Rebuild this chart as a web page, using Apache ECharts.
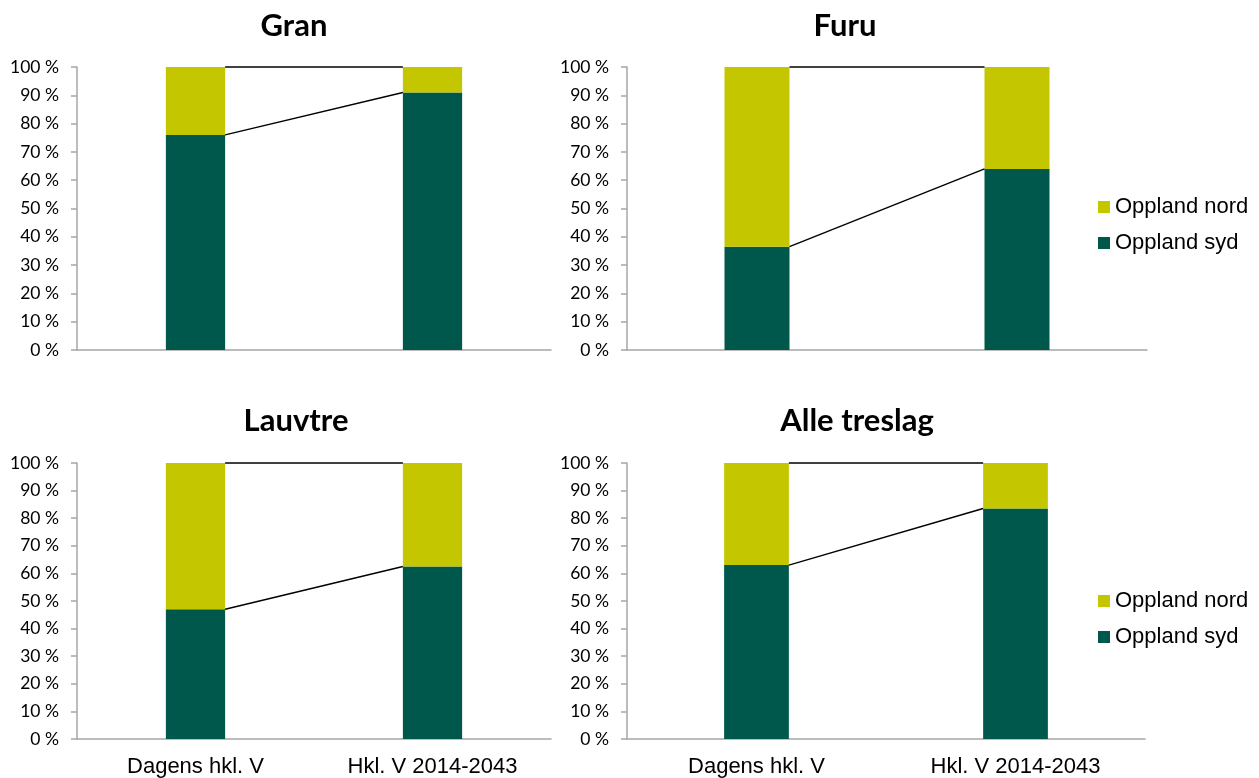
<!DOCTYPE html>
<html lang="no">
<head>
    <meta charset="UTF-8">
    <title>Hkl. V Oppland</title>
    <script src="https://cdn.jsdelivr.net/npm/echarts@6/dist/echarts.min.js"></script>
    <style type="text/css">
        html, body {
            margin: 0;
            padding: 0;
            background: #ffffff;
        }
    </style>
</head>
<body>
<div id="main" style="width: 1259px;height:778px;"></div>
<script>
    // data (percent)
    const categories = ['Dagens hkl. V', 'Hkl. V 2014-2043'];
    const panel_names = ['Gran', 'Furu', 'Lauvtre', 'Alle treslag'];
    const series_names = ['Oppland syd', 'Oppland nord'];
    const syd_share = [[76, 91], [36.5, 64], [47, 62.5], [63, 83.5]];
    const nord_share = [[24, 9], [63.5, 36], [53, 37.5], [37, 16.5]];
    const y_min = 0, y_max = 100, y_step = 10;

    const COLOR_SYD = '#00584c';
    const COLOR_NORD = '#c4c700';
    const AXIS_GRAY = '#a6a6a6';
    const BAR_RATIO = 0.25;

    // plot areas: left, top, width, height
    const grids = [
        {left: 77, top: 67, width: 474, height: 283},
        {left: 627, top: 67, width: 520, height: 283},
        {left: 77, top: 463, width: 474, height: 277},
        {left: 627, top: 463, width: 518, height: 277}
    ];
    const title_pos = [[294, 26], [845, 26], [296, 421], [857, 421]];

    // thin black lines joining the bar segments
    function renderLink(params, api) {
        let a = api.coord([0, api.value(1)]);
        let b = api.coord([1, api.value(2)]);
        let half = api.size([1, 0])[0] * BAR_RATIO / 2;
        return {
            type: 'line',
            shape: {x1: a[0] + half, y1: a[1], x2: b[0] - half, y2: b[1]},
            style: {stroke: '#000000', lineWidth: 1.4}
        };
    }

    let xAxis = [], yAxis = [], series = [], graphic = [];
    for (let i = 0; i < 4; i++) {
        let bottom_row = i >= 2;
        xAxis.push({
            type: 'category',
            gridIndex: i,
            data: categories,
            axisLine: {lineStyle: {color: AXIS_GRAY, width: 1.5}},
            axisTick: {show: false},
            axisLabel: {
                show: bottom_row,
                margin: 17,
                fontFamily: 'Liberation Sans',
                fontSize: 22,
                color: '#000000'
            }
        });
        yAxis.push({
            type: 'value',
            gridIndex: i,
            min: y_min,
            max: y_max,
            interval: y_step,
            splitLine: {show: false},
            axisLine: {show: true, lineStyle: {color: AXIS_GRAY, width: 1.5}},
            axisTick: {show: true, length: 6, lineStyle: {color: AXIS_GRAY, width: 1.5}},
            axisLabel: {
                formatter: '{value} %',
                margin: 18,
                fontFamily: 'Lato',
                fontSize: 17.5,
                color: '#000000'
            }
        });
        series.push({
            name: series_names[0],
            type: 'bar',
            stack: 'p' + i,
            xAxisIndex: i,
            yAxisIndex: i,
            barWidth: (BAR_RATIO * 100) + '%',
            itemStyle: {color: COLOR_SYD},
            silent: true,
            data: syd_share[i]
        });
        series.push({
            name: series_names[1],
            type: 'bar',
            stack: 'p' + i,
            xAxisIndex: i,
            yAxisIndex: i,
            barWidth: (BAR_RATIO * 100) + '%',
            itemStyle: {color: COLOR_NORD},
            silent: true,
            data: nord_share[i]
        });
        series.push({
            name: 'link' + i,
            type: 'custom',
            xAxisIndex: i,
            yAxisIndex: i,
            renderItem: renderLink,
            encode: {x: 0, y: 1},
            silent: true,
            z: 5,
            data: [
                [0, syd_share[i][0], syd_share[i][1]],
                [0, syd_share[i][0] + nord_share[i][0], syd_share[i][1] + nord_share[i][1]]
            ]
        });
        graphic.push({
            type: 'text',
            x: title_pos[i][0],
            y: title_pos[i][1],
            style: {
                text: panel_names[i],
                align: 'center',
                verticalAlign: 'middle',
                fontFamily: 'Lato',
                fontWeight: 'bold',
                fontSize: 31,
                fill: '#000000'
            }
        });
    }

    let legend_base = {
        orient: 'vertical',
        left: 1093,
        data: [series_names[1], series_names[0]],
        icon: 'rect',
        itemWidth: 12,
        itemHeight: 12,
        itemGap: 14,
        selectedMode: false,
        textStyle: {fontFamily: 'Liberation Sans', fontSize: 22, color: '#000000'}
    };

    var myChart = echarts.init(document.getElementById('main'));
    myChart.setOption({
        animation: false,
        grid: grids,
        xAxis: xAxis,
        yAxis: yAxis,
        legend: [
            Object.assign({}, legend_base, {top: 191}),
            Object.assign({}, legend_base, {top: 585})
        ],
        graphic: graphic,
        series: series
    });
</script>
</body>
</html>
